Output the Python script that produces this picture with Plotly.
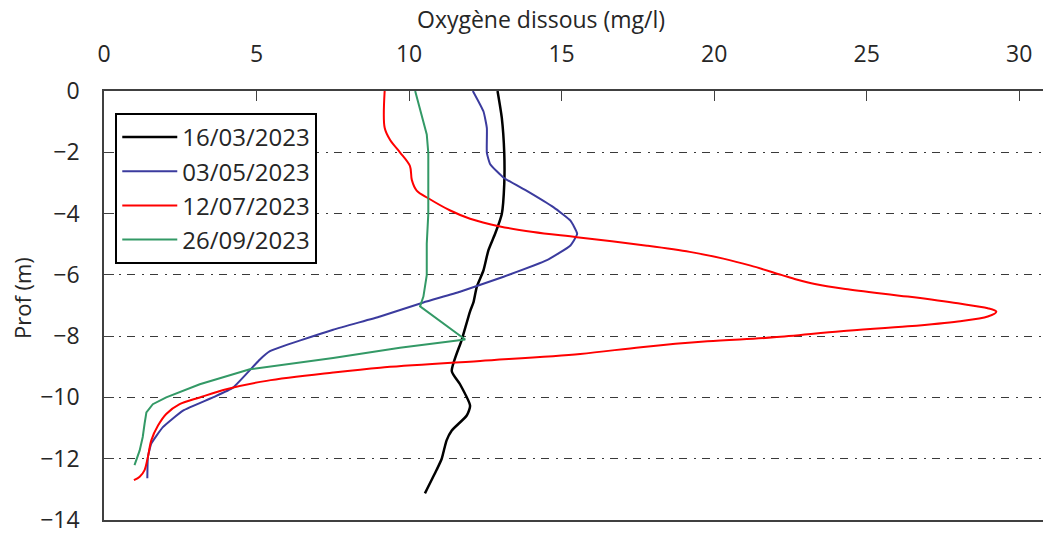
import plotly.graph_objects as go

# Dissolved oxygen profiles (mg/l) against depth (m) for four sampling dates
dates = ["16/03/2023", "03/05/2023", "12/07/2023", "26/09/2023"]
colors = ["#000000", "#3b3b9e", "#ff0000", "#339966"]

depth_mar = [0, -0.88, -2.02, -3.04, -4.01, -4.66, -5.2, -5.85, -6.39, -6.9, -7.19,
             -8.11, -9.14, -9.57, -10.27, -10.59, -11.08, -11.4, -12.0, -12.37, -13.13]
o2_mar = [12.9, 13.04, 13.12, 13.12, 13.04, 12.82, 12.6, 12.44, 12.22, 12.11, 12.0,
          11.73, 11.4, 11.67, 12.0, 11.89, 11.4, 11.23, 11.07, 10.9, 10.52]

depth_may = [0, -0.67, -1.21, -2.02, -2.39, -2.83, -3.26, -3.8, -4.23, -4.66, -5.04,
             -5.52, -6.06, -6.55, -6.9, -7.36, -7.79, -8.49, -8.76, -9.68, -10.0,
             -10.43, -10.97, -11.51, -11.94, -12.64]
o2_may = [12.09, 12.44, 12.55, 12.55, 12.66, 13.1, 13.86, 14.74, 15.29, 15.51, 15.29,
          14.52, 13.1, 11.67, 10.47, 9.05, 7.51, 5.44, 5.11, 4.23, 3.57,
          2.59, 1.93, 1.55, 1.44, 1.42]

depth_jul = [0, -1.2, -1.6, -2.0, -2.45, -2.9, -3.25, -3.5, -3.9, -4.17, -4.42, -4.6,
             -4.77, -5.05, -5.25, -5.47, -5.7, -6.0, -6.15, -6.3, -6.46, -6.71, -6.93,
             -7.09, -7.2, -7.36, -7.52, -7.68, -7.84, -8.04, -8.17, -8.36, -8.58, -8.81,
             -9.03, -9.19, -9.46, -9.73, -10.0, -10.22, -10.54, -10.92, -11.4, -11.94,
             -12.37, -12.59, -12.7]
o2_jul = [9.2, 9.2, 9.38, 9.7, 10.03, 10.09, 10.25, 10.63, 11.35, 12.0, 12.98, 14.07,
          15.5, 17.8, 19.2, 20.3, 21.2, 22.2, 22.7, 23.3, 24.3, 26.35, 27.99,
          28.97, 29.25, 28.97, 27.99, 26.35, 24.16, 21.96, 19.78, 17.6, 15.61, 12.33,
          9.05, 7.51, 5.33, 4.01, 3.14, 2.48, 2.04, 1.77, 1.55, 1.44,
          1.33, 1.17, 0.98]

depth_sep = [0, -0.78, -1.42, -2.02, -3.04, -4.01, -4.98, -6.01, -6.71, -7.03, -8.11,
             -8.38, -8.71, -9.08, -9.57, -10.0, -10.22, -10.49, -10.86, -11.29, -11.73,
             -12.21]
o2_sep = [10.2, 10.42, 10.58, 10.63, 10.63, 10.63, 10.58, 10.58, 10.47, 10.36, 11.84,
          9.7, 7.51, 4.78, 3.14, 2.04, 1.6, 1.39, 1.33, 1.27, 1.17,
          1.0]

x_ticks = [0, 5, 10, 15, 20, 25, 30]
y_ticks = [0, -2, -4, -6, -8, -10, -12, -14]

# (x values, depths, line width, line shape, smoothing)
series = [(o2_mar, depth_mar, 2.5, "spline", 0.6),
          (o2_may, depth_may, 2, "spline", 0.4),
          (o2_jul, depth_jul, 2, "spline", 0.9),
          (o2_sep, depth_sep, 2, "linear", 0)]

fig = go.Figure()
for name, color, (xs, ys, w, shape, sm) in zip(dates, colors, series):
    line = dict(color=color, width=w, shape=shape)
    if shape == "spline":
        line["smoothing"] = sm
    fig.add_trace(go.Scatter(x=xs, y=ys, mode="lines", name=name, line=line))

font_family = "Open Sans"
text_color = "#262626"

fig.update_layout(
    width=1043, height=535,
    margin=dict(l=104, r=0, t=91, b=11),
    plot_bgcolor="white", paper_bgcolor="white",
    font=dict(family=font_family, color=text_color),
    showlegend=True,
    legend=dict(
        x=0.012, y=0.949, xanchor="left", yanchor="top",
        bordercolor="#000000", borderwidth=2, bgcolor="white",
        font=dict(size=24, family=font_family, color=text_color),
        itemwidth=55, tracegroupgap=0,
    ),
    xaxis=dict(
        side="top", range=[0, 30.78], tickvals=x_ticks,
        ticks="inside", ticklen=10, tickcolor="#404040",
        showline=True, linecolor="#404040", linewidth=1.5, mirror=True,
        showgrid=False, zeroline=False,
        tickfont=dict(size=23), ticklabelstandoff=18,
        ticklabeloverflow="allow",
    ),
    yaxis=dict(
        range=[-14, 0], tickvals=y_ticks,
        ticks="inside", ticklen=10, tickcolor="#404040",
        showline=True, linecolor="#404040", linewidth=1.5,
        showgrid=True, gridcolor="#3a3a3a", gridwidth=1.2,
        griddash="8px,7px,2px,6px",
        zeroline=False,
        tickfont=dict(size=23), ticklabelstandoff=18,
        ticklabeloverflow="allow",
    ),
    annotations=[
        dict(text="Oxygène dissous (mg/l)", xref="paper", yref="paper",
             x=0.465, y=1 + (91 - 18) / 433, xanchor="center", yanchor="middle",
             showarrow=False, font=dict(size=23)),
        dict(text="Prof (m)", xref="paper", yref="paper",
             x=-(104 - 22) / 939, y=1 - (300 - 91) / 433, xanchor="center",
             yanchor="middle", textangle=-90, showarrow=False,
             font=dict(size=22)),
    ],
)

fig.write_html("out.html")
